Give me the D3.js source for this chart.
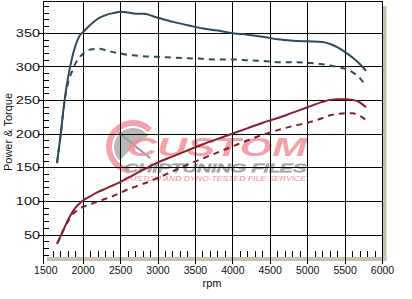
<!DOCTYPE html>
<html><head><meta charset="utf-8">
<script src="https://cdn.jsdelivr.net/npm/d3@7"></script>
<style>
html,body{margin:0;padding:0;background:#fff;}
svg{display:block;font-family:"Liberation Sans",Arial,sans-serif;}
</style></head>
<body>
<svg id="c" width="412" height="299"></svg>
<script>
const rpm =        [1650,1700,1750,1800,1850,1900,1950,2000,2100,2200,2300,2400,2500,2600,2700,2800,3000,3200,3400,3600,3800,4000,4200,4400,4600,4800,5000,5200,5300,5400,5500,5600,5700,5780];
const torque =     [157, 201, 250, 286, 313, 333, 346, 352, 363, 372, 377, 380, 382, 381, 379, 379, 373, 367, 362, 357, 354, 350, 348, 345, 341, 339, 338, 337, 334, 329, 322, 314, 304, 294];
const torqueStock= [157, 200, 248, 278, 293, 306, 314, 320, 326, 327, 325, 322, 320, 318, 317, 316, 315, 314, 313, 312, 311, 311, 310, 309, 307, 307, 306, 304, 302, 300, 297, 292, 283, 272];
const power =      [37,  49,  61,  73,  83,  91,  97,  101.5, 108, 114, 119, 124, 129, 135, 141, 147, 158, 167, 176, 185, 193, 201, 209, 217, 224, 232, 240, 248, 251, 252, 252, 251, 247, 240];
const powerStock = [37,  48,  61,  71,  80,  85,  89,  92,  96,  100, 104, 108, 113, 118, 122, 126, 135, 145, 155, 164, 173, 182, 191, 199, 206, 212, 217, 224, 228, 230, 231, 231, 227, 221];
const xTicks = [1500,2000,2500,3000,3500,4000,4500,5000,5500,6000];
const yTicks = [50,100,150,200,250,300,350];
const xLabel = "rpm";
const yLabel = "Power & Torque";

const svg = d3.select("#c");
const x = d3.scaleLinear().domain([1500,6000]).range([45.8,382.5]);
const y = d3.scaleLinear().domain([50,350]).range([235,33.3]);
const L = 43, T = 1.5, B = 257, R = 382.5;

// shadow
svg.append("rect").attr("x",47).attr("y",B).attr("width",R+4-47).attr("height",4).attr("fill","#c4c0ac");
svg.append("rect").attr("x",R).attr("y",6).attr("width",4).attr("height",B+4-6).attr("fill","#c4c0ac");
svg.append("rect").attr("x",L).attr("y",T).attr("width",R-L).attr("height",B-T).attr("fill","#fff");

// watermark
const wm = svg.append("g").attr("class","watermark");
wm.append("path").attr("d", d3.arc()({innerRadius:21,outerRadius:27,startAngle:-Math.PI*0.95,endAngle:Math.PI*0.25}))
  .attr("transform","translate(133,147)").attr("fill","#f2a3ab");
wm.append("path").attr("d", d3.arc()({innerRadius:0,outerRadius:19,startAngle:-Math.PI*0.75,endAngle:Math.PI*0.3}))
  .attr("transform","translate(133,147)").attr("fill","#b8b8b8");
wm.append("line").attr("x1",118).attr("y1",132).attr("x2",150).attr("y2",158).attr("stroke","#999").attr("stroke-width",2);
wm.append("text").attr("x",127).attr("y",156).attr("textLength",180).attr("lengthAdjust","spacingAndGlyphs")
  .attr("font-size",26).attr("font-weight","bold").attr("font-style","italic")
  .attr("fill","#f08f9a").attr("fill-opacity",0.85).text("CUSTOM");
wm.append("text").attr("x",124).attr("y",172).attr("textLength",182).attr("lengthAdjust","spacingAndGlyphs")
  .attr("font-size",11).attr("font-style","italic")
  .attr("fill","none").attr("stroke","#a0a0a0").attr("stroke-width",0.8).text("CHIPTUNING FILES");
wm.append("text").attr("x",124).attr("y",180.5).attr("textLength",182).attr("lengthAdjust","spacingAndGlyphs")
  .attr("font-size",6.5).attr("font-style","italic")
  .attr("fill","#f08f9a").text("CUSTOM AND DYNO-TESTED FILE SERVICE");

// grid
const g = svg.append("g").attr("stroke","#000").attr("stroke-width",1).attr("shape-rendering","crispEdges");
g.selectAll(".vg").data(xTicks.filter(d=>d>1500)).join("line")
  .attr("x1",d=>x(d)).attr("x2",d=>x(d)).attr("y1",T).attr("y2",B+7);
g.selectAll(".hg").data(yTicks).join("line")
  .attr("x1",L-5).attr("x2",R).attr("y1",d=>y(d)).attr("y2",d=>y(d));
g.append("line").attr("x1",L).attr("x2",L).attr("y1",T).attr("y2",B+7);
g.append("line").attr("x1",L).attr("x2",R).attr("y1",T).attr("y2",T);
// minor ticks
const xMinor = d3.range(1600,6000,100).filter(d=>d%500!==0);
g.selectAll(".xm").data(xMinor).join("line")
  .attr("x1",d=>x(d)).attr("x2",d=>x(d)).attr("y1",B-6.5).attr("y2",B);
const yMinor = d3.range(20,400,10).filter(d=>d%50!==0);
g.selectAll(".ym").data(yMinor).join("line")
  .attr("x1",L).attr("x2",L+5.5).attr("y1",d=>y(d)).attr("y2",d=>y(d));

// tick labels
svg.append("g").selectAll("text").data(xTicks).join("text")
  .attr("x",d=>x(d)).attr("y",274).attr("text-anchor","middle")
  .attr("font-size",10.5).attr("fill","#111").text(d=>d);
svg.append("g").selectAll("text").data(yTicks).join("text")
  .attr("transform",d=>`translate(40,${y(d)}) scale(1.45,1)`)
  .attr("dy","0.36em").attr("text-anchor","end")
  .attr("font-size",10).attr("fill","#111").text(d=>d);
svg.append("text").attr("x",212).attr("y",287).attr("text-anchor","middle")
  .attr("font-size",11).attr("fill","#111").text(xLabel);
svg.append("text").attr("transform","translate(12,132) rotate(-90)").attr("text-anchor","middle")
  .attr("font-size",11).attr("fill","#111").text(yLabel);

// lines
const line = (vals) => d3.line().x((d,i)=>x(rpm[i])).y(d=>y(d)).curve(d3.curveMonotoneX)(vals);
const teal = "#2c4b5b", red = "#8b1e2e";
svg.append("path").attr("d",line(torqueStock)).attr("fill","none").attr("stroke",teal).attr("stroke-width",2).attr("stroke-dasharray","6,5");
svg.append("path").attr("d",line(powerStock)).attr("fill","none").attr("stroke",red).attr("stroke-width",2).attr("stroke-dasharray","6,5");
svg.append("path").attr("d",line(torque)).attr("fill","none").attr("stroke",teal).attr("stroke-width",2);
svg.append("path").attr("d",line(power)).attr("fill","none").attr("stroke",red).attr("stroke-width",2);
</script>
</body></html>
